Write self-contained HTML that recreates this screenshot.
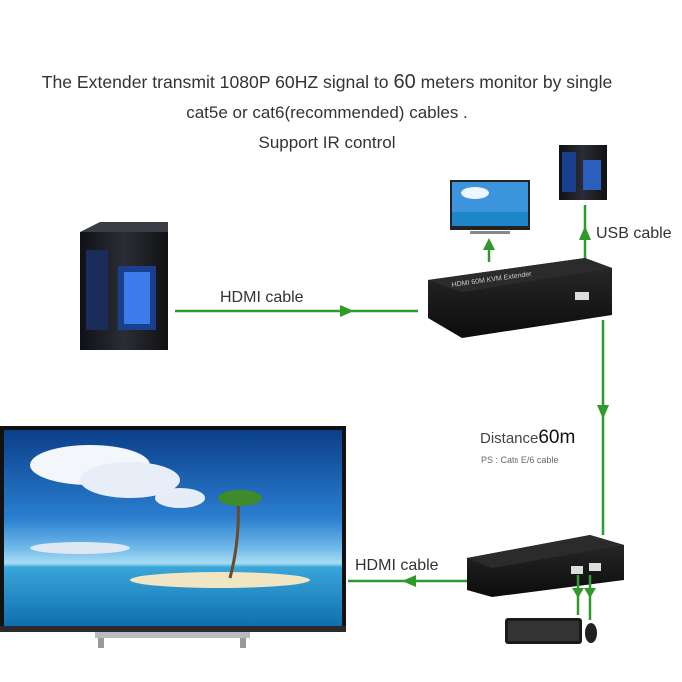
<!DOCTYPE html>
<html><head><style>
html,body{margin:0;padding:0;background:#fff;}
svg{display:block;font-family:"Liberation Sans",sans-serif;}
</style></head><body>
<svg width="682" height="682" viewBox="0 0 682 682" xmlns="http://www.w3.org/2000/svg">
<defs>
<linearGradient id="sky" x1="0" y1="0" x2="0" y2="1">
<stop offset="0" stop-color="#0b3f8a"/><stop offset="0.45" stop-color="#2a7fd0"/><stop offset="0.6" stop-color="#6fb8ea"/><stop offset="0.68" stop-color="#a9dcf3"/>
<stop offset="0.7" stop-color="#3aa6d8"/><stop offset="1" stop-color="#0f6fb0"/></linearGradient>
<linearGradient id="box" x1="0" y1="0" x2="0" y2="1"><stop offset="0" stop-color="#2a2a2a"/><stop offset="1" stop-color="#0c0c0c"/></linearGradient>
<linearGradient id="pc" x1="0" y1="0" x2="1" y2="0"><stop offset="0" stop-color="#0f1116"/><stop offset="0.5" stop-color="#2a2d35"/><stop offset="1" stop-color="#111"/></linearGradient>
</defs>
<g fill="#333" font-size="17" text-anchor="middle">
<text x="327" y="88" font-size="17.6">The Extender transmit 1080P 60HZ signal to <tspan font-size="20">60</tspan> meters monitor by single</text>
<text x="327" y="118">cat5e or cat6(recommended) cables .</text>
<text x="327" y="148">Support IR control</text>
</g>
<rect x="80" y="232" width="88" height="118" fill="url(#pc)"/>
<polygon points="80,232 100,222 168,222 168,232" fill="#3a3d44"/>
<rect x="118" y="266" width="38" height="64" fill="#1b3f8f"/>
<rect x="124" y="272" width="26" height="52" fill="#3b7bea"/>
<rect x="86" y="250" width="22" height="80" fill="#1b2c5a"/>
<line x1="175" y1="311" x2="418" y2="311" stroke="#2f9a2b" stroke-width="2.5"/>
<polygon points="354,311 340,305 340,317" fill="#2f9a2b"/>
<text x="220" y="302" font-size="16" fill="#333">HDMI cable</text>
<rect x="450" y="180" width="80" height="50" fill="#222"/>
<rect x="452" y="182" width="76" height="44" fill="#3c95dc"/>
<ellipse cx="475" cy="193" rx="14" ry="6" fill="#eef6ff"/>
<rect x="452" y="212" width="76" height="14" fill="#1e86c8"/>
<rect x="470" y="231" width="40" height="3" fill="#888"/>
<line x1="489" y1="262" x2="489" y2="246" stroke="#2f9a2b" stroke-width="2.5"/>
<polygon points="489,238 483,250 495,250" fill="#2f9a2b"/>
<rect x="559" y="145" width="48" height="55" fill="url(#pc)"/>
<rect x="583" y="160" width="18" height="30" fill="#2a5fc0"/>
<rect x="562" y="152" width="14" height="40" fill="#1b3f8f"/>
<line x1="585" y1="290" x2="585" y2="205" stroke="#2f9a2b" stroke-width="2.5"/>
<polygon points="585,226 579,240 591,240" fill="#2f9a2b"/>
<text x="596" y="238" font-size="16" fill="#333">USB cable</text>
<polygon points="428,280 585,258 612,268 612,315 462,338 428,318" fill="url(#box)"/>
<polygon points="428,280 585,258 612,268 462,292" fill="#2b2b2b"/>
<text x="452" y="287" font-size="7" fill="#ccc" transform="rotate(-8 452 287)">HDMI   60M KVM Extender</text>
<rect x="575" y="292" width="14" height="8" fill="#ddd"/>
<line x1="603" y1="320" x2="603" y2="535" stroke="#2f9a2b" stroke-width="2.5"/>
<polygon points="603,419 597,405 609,405" fill="#2f9a2b"/>
<text x="480" y="443" font-size="15" fill="#444">Distance<tspan font-size="19" fill="#111">60m</tspan></text>
<text x="481" y="463" font-size="9" fill="#666">PS : Cat<tspan font-size="7">6</tspan> E/6 cable</text>
<rect x="0" y="426" width="346" height="206" fill="#111"/>
<rect x="4" y="430" width="338" height="196" fill="url(#sky)"/>
<ellipse cx="90" cy="465" rx="60" ry="20" fill="#f3f6fb"/>
<ellipse cx="130" cy="480" rx="50" ry="18" fill="#e8eef7"/>
<ellipse cx="180" cy="498" rx="25" ry="10" fill="#e6edf6"/>
<ellipse cx="80" cy="548" rx="50" ry="6" fill="#dfe9f4"/>
<ellipse cx="220" cy="580" rx="90" ry="8" fill="#f0e6c4"/>
<path d="M230 578 Q240 540 238 500" stroke="#6a4a2a" stroke-width="3" fill="none"/>
<ellipse cx="240" cy="498" rx="22" ry="8" fill="#3f8a2a"/>
<rect x="0" y="626" width="346" height="6" fill="#2a2a2a"/>
<rect x="95" y="632" width="155" height="6" fill="#bbb"/>
<rect x="98" y="638" width="6" height="10" fill="#999"/>
<rect x="240" y="638" width="6" height="10" fill="#999"/>
<line x1="348" y1="581" x2="468" y2="581" stroke="#2f9a2b" stroke-width="2.5"/>
<polygon points="402,581 416,575 416,587" fill="#2f9a2b"/>
<text x="355" y="570" font-size="16" fill="#333">HDMI cable</text>
<polygon points="467,558 590,535 624,545 624,580 492,597 467,590" fill="url(#box)"/>
<polygon points="467,558 590,535 624,545 492,568" fill="#2b2b2b"/>
<rect x="571" y="566" width="12" height="8" fill="#ddd"/>
<rect x="589" y="563" width="12" height="8" fill="#ddd"/>
<line x1="578" y1="575" x2="578" y2="615" stroke="#2f9a2b" stroke-width="2.5"/>
<line x1="590" y1="575" x2="590" y2="620" stroke="#2f9a2b" stroke-width="2.5"/>
<polygon points="578,598 572,588 584,588" fill="#2f9a2b"/>
<polygon points="590,598 584,588 596,588" fill="#2f9a2b"/>
<rect x="505" y="618" width="77" height="26" rx="3" fill="#1a1a1a"/>
<rect x="508" y="621" width="71" height="20" fill="#333"/>
<ellipse cx="591" cy="633" rx="6" ry="10" fill="#222"/>
</svg>
</body></html>
